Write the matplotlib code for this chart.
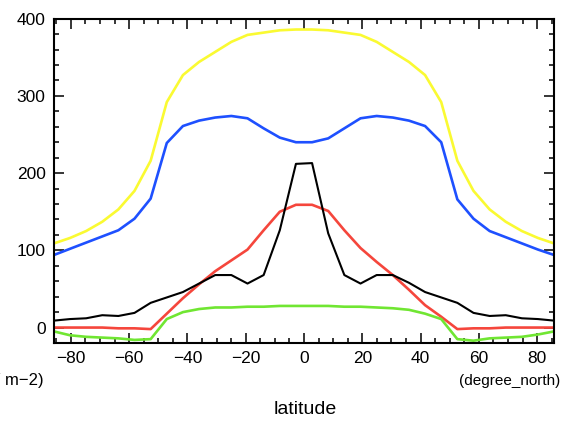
import matplotlib
matplotlib.use("Agg")
import matplotlib.pyplot as plt
from matplotlib.ticker import MultipleLocator
import numpy as np

# T21 gaussian latitudes (south -> north)
lat_n = [2.769, 8.306, 13.844, 19.382, 24.920, 30.458, 35.995, 41.532,
         47.070, 52.607, 58.143, 63.679, 69.213, 74.745, 80.269, 85.761]
lat = np.array([-v for v in lat_n[::-1]] + lat_n)

# zonal means, W m-2
yellow = [109, 116, 125, 137, 153, 177, 216, 292, 327, 344, 357, 370, 379, 382, 385, 386,
          386, 385, 382, 379, 370, 357, 344, 327, 292, 216, 177, 153, 137, 125, 116, 109]
blue = [94, 102, 110, 118, 126, 141, 167, 239, 261, 268, 272, 274, 271, 258, 246, 240,
        240, 245, 258, 271, 274, 272, 268, 261, 240, 166, 141, 125, 117, 109, 101, 94]
red = [0, 0, 0, 0, -1, -1, -2, 18, 38, 56, 73, 87, 101, 126, 150, 159,
       159, 151, 126, 103, 85, 68, 49, 29, 14, -2, -1, -1, 0, 0, 0, 0]
black = [9, 11, 12, 16, 15, 19, 32, 39, 46, 57, 68, 68, 57, 68, 126, 212,
         213, 122, 68, 57, 68, 68, 58, 46, 39, 32, 19, 15, 16, 12, 11, 9]
green = [-5, -10, -12, -13, -14, -16, -15, 11, 20, 24, 26, 26, 27, 27, 28, 28,
         28, 28, 27, 27, 26, 25, 23, 18, 11, -15, -17, -14, -13, -12, -9, -5]

xticks = [-80, -60, -40, -20, 0, 20, 40, 60, 80]
xticklabels = ["\u221280", "\u221260", "\u221240", "\u221220", "0", "20", "40", "60", "80"]

fnt = ["Liberation Sans", "DejaVu Sans"]

fig = plt.figure(figsize=(5.69, 4.22), dpi=100)
ax = fig.add_axes([54 / 569, 1 - 343 / 422, 500 / 569, (343 - 18.7) / 422])

ax.plot(lat, yellow, color="#fafa32", lw=1.9)
ax.plot(lat, blue, color="#1e50ff", lw=1.9)
ax.plot(lat, red, color="#f5463c", lw=1.9)
ax.plot(lat, black, color="black", lw=1.5)
ax.plot(lat, green, color="#70e632", lw=1.9)

ax.set_xlim(-85.761, 85.761)
ax.set_ylim(-20, 400)
ax.set_xticks(xticks)
ax.set_xticklabels(xticklabels)
ax.set_yticks([0, 100, 200, 300, 400])
ax.xaxis.set_minor_locator(MultipleLocator(5))
ax.yaxis.set_minor_locator(MultipleLocator(20))
ax.tick_params(which="both", direction="in", top=True, right=True, width=1.1)
ax.tick_params(which="major", length=7, labelsize=12.5, pad=6)
ax.tick_params(which="minor", length=3.5)
for lbl in ax.get_xticklabels() + ax.get_yticklabels():
    lbl.set_family(fnt)
for s in ax.spines.values():
    s.set_linewidth(1.5)

fig.text(510 / 569, 1 - 381 / 422, "(degree_north)", ha="center", va="center",
         fontsize=11, family=fnt)
fig.text(305 / 569, 1 - 410 / 422, "latitude", ha="center", va="center",
         fontsize=14, family=fnt)
fig.text(44 / 569, 1 - 381 / 422, "(W m\u22122)", ha="right", va="center",
         fontsize=12, family=fnt)

fig.savefig("out.png", dpi=100)
